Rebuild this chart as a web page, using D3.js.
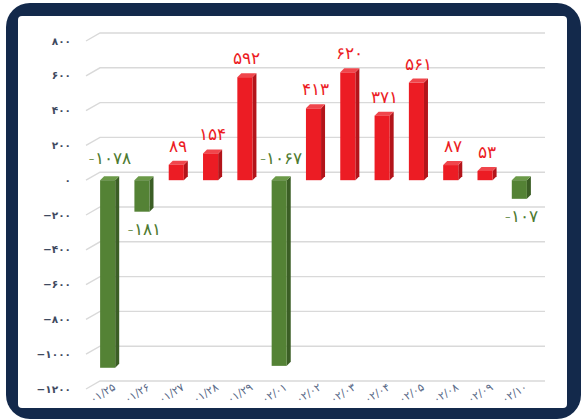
<!DOCTYPE html>
<html lang="fa">
<head>
<meta charset="UTF-8" />
<title>Daily values</title>
<script src="https://cdnjs.cloudflare.com/ajax/libs/d3/7.8.5/d3.min.js"></script>
<style>
    html, body { margin: 0; padding: 0; background: #fff; }
    svg { display: block; }
</style>
</head>
<body>
<div id="chart"></div>
<script>
// chart data
var categories = ["۰۱/۲۵", "۰۱/۲۶", "۰۱/۲۷", "۰۱/۲۸", "۰۱/۲۹", "۰۲/۰۱", "۰۲/۰۲",
                  "۰۲/۰۳", "۰۲/۰۴", "۰۲/۰۵", "۰۲/۰۸", "۰۲/۰۹", "۰۲/۱۰"];
var values = [-1078, -181, 89, 154, 592, -1067, 413, 620, 371, 561, 87, 53, -107];
var yTicks = [-1200, -1000, -800, -600, -400, -200, 0, 200, 400, 600, 800];

var width = 586, height = 419;
var depthX = 4, depthY = 4;      // bar 3d depth
var wallX = 14, wallY = 8;       // back wall offset for gridlines

function fa(n) {
    var s = String(Math.abs(n)).replace(/\d/g, function(d) { return "۰۱۲۳۴۵۶۷۸۹"[d]; });
    return s;
}

var svg = d3.select("#chart").append("svg")
    .attr("width", width)
    .attr("height", height);

// frame
svg.append("rect")
    .attr("x", 6).attr("y", 3)
    .attr("width", 575).attr("height", 416)
    .attr("rx", 24)
    .attr("fill", "#13294b");
svg.append("rect")
    .attr("x", 18).attr("y", 16)
    .attr("width", 549).attr("height", 392)
    .attr("rx", 4)
    .attr("fill", "#ffffff");

var x = d3.scaleBand()
    .domain(categories)
    .range([90.5, 536.5])
    .paddingInner(0.56)
    .paddingOuter(0.28);

var y = d3.scaleLinear()
    .domain([-1200, 800])
    .range([389, 41]);

// gridlines: slanted floor part then back wall
var grid = svg.append("g");
yTicks.forEach(function(t) {
    var yy = y(t);
    grid.append("path")
        .attr("d", "M86," + yy + "L" + (86 + wallX) + "," + (yy - wallY) + "H545")
        .attr("fill", "none")
        .attr("stroke", "#d9d9d9")
        .attr("stroke-width", 1.4);
});

// y axis labels
svg.append("g").selectAll("text")
    .data(yTicks)
    .enter().append("text")
    .attr("x", 71)
    .attr("y", function(d) { return y(d); })
    .attr("dy", "0.35em")
    .attr("text-anchor", "end")
    .attr("font-family", "DejaVu Sans, sans-serif")
    .attr("font-size", 10.5)
    .attr("font-weight", "bold")
    .attr("fill", "#3f4a5f")
    .text(function(d) { return (d < 0 ? "\u2212" : "") + fa(d); });

// bars
var colors = {
    pos: { front: "#ec1c24", side: "#b3141a", top: "#f0464c" },
    neg: { front: "#548235", side: "#3b5e25", top: "#6b9a48" }
};

var bars = svg.append("g");
values.forEach(function(v, i) {
    var c = v >= 0 ? colors.pos : colors.neg;
    var x0 = x(categories[i]), w = x.bandwidth();
    var top = y(Math.max(0, v)), bot = y(Math.min(0, v));
    var g = bars.append("g");
    g.append("polygon")
        .attr("points", [[x0 + w, top], [x0 + w + depthX, top - depthY],
                         [x0 + w + depthX, bot - depthY], [x0 + w, bot]].join(" "))
        .attr("fill", c.side);
    g.append("polygon")
        .attr("points", [[x0, top], [x0 + depthX, top - depthY],
                         [x0 + w + depthX, top - depthY], [x0 + w, top]].join(" "))
        .attr("fill", c.top);
    g.append("rect")
        .attr("x", x0).attr("y", top)
        .attr("width", w).attr("height", bot - top)
        .attr("fill", c.front);
});

// data labels
svg.append("g").selectAll("text")
    .data(values)
    .enter().append("text")
    .attr("x", function(d, i) { return x(categories[i]) + x.bandwidth() / 2 + 2; })
    .attr("y", function(d) {
        if (d >= 0) return y(d) - 19;
        if (d < -500) return y(0) - 22;
        return y(d) + 17;
    })
    .attr("dy", "0.35em")
    .attr("text-anchor", "middle")
    .attr("font-family", "DejaVu Sans, sans-serif")
    .attr("font-size", 17)
    .attr("font-weight", 300)
    .attr("fill", function(d) { return d >= 0 ? "#ec1c24" : "#4e7a30"; })
    .text(function(d) { return (d < 0 ? "-" : "") + fa(d); });

// category labels, slanted
svg.append("g").selectAll("text")
    .data(categories)
    .enter().append("text")
    .attr("transform", function(d) {
        return "translate(" + (x(d) + x.bandwidth() / 2 - 5) + ",393) rotate(-32)";
    })
    .attr("dy", "0.35em")
    .attr("text-anchor", "middle")
    .attr("font-family", "DejaVu Sans, sans-serif")
    .attr("font-size", 11)
    .attr("fill", "#5a6a88")
    .text(function(d) { return d; });
</script>
</body>
</html>
